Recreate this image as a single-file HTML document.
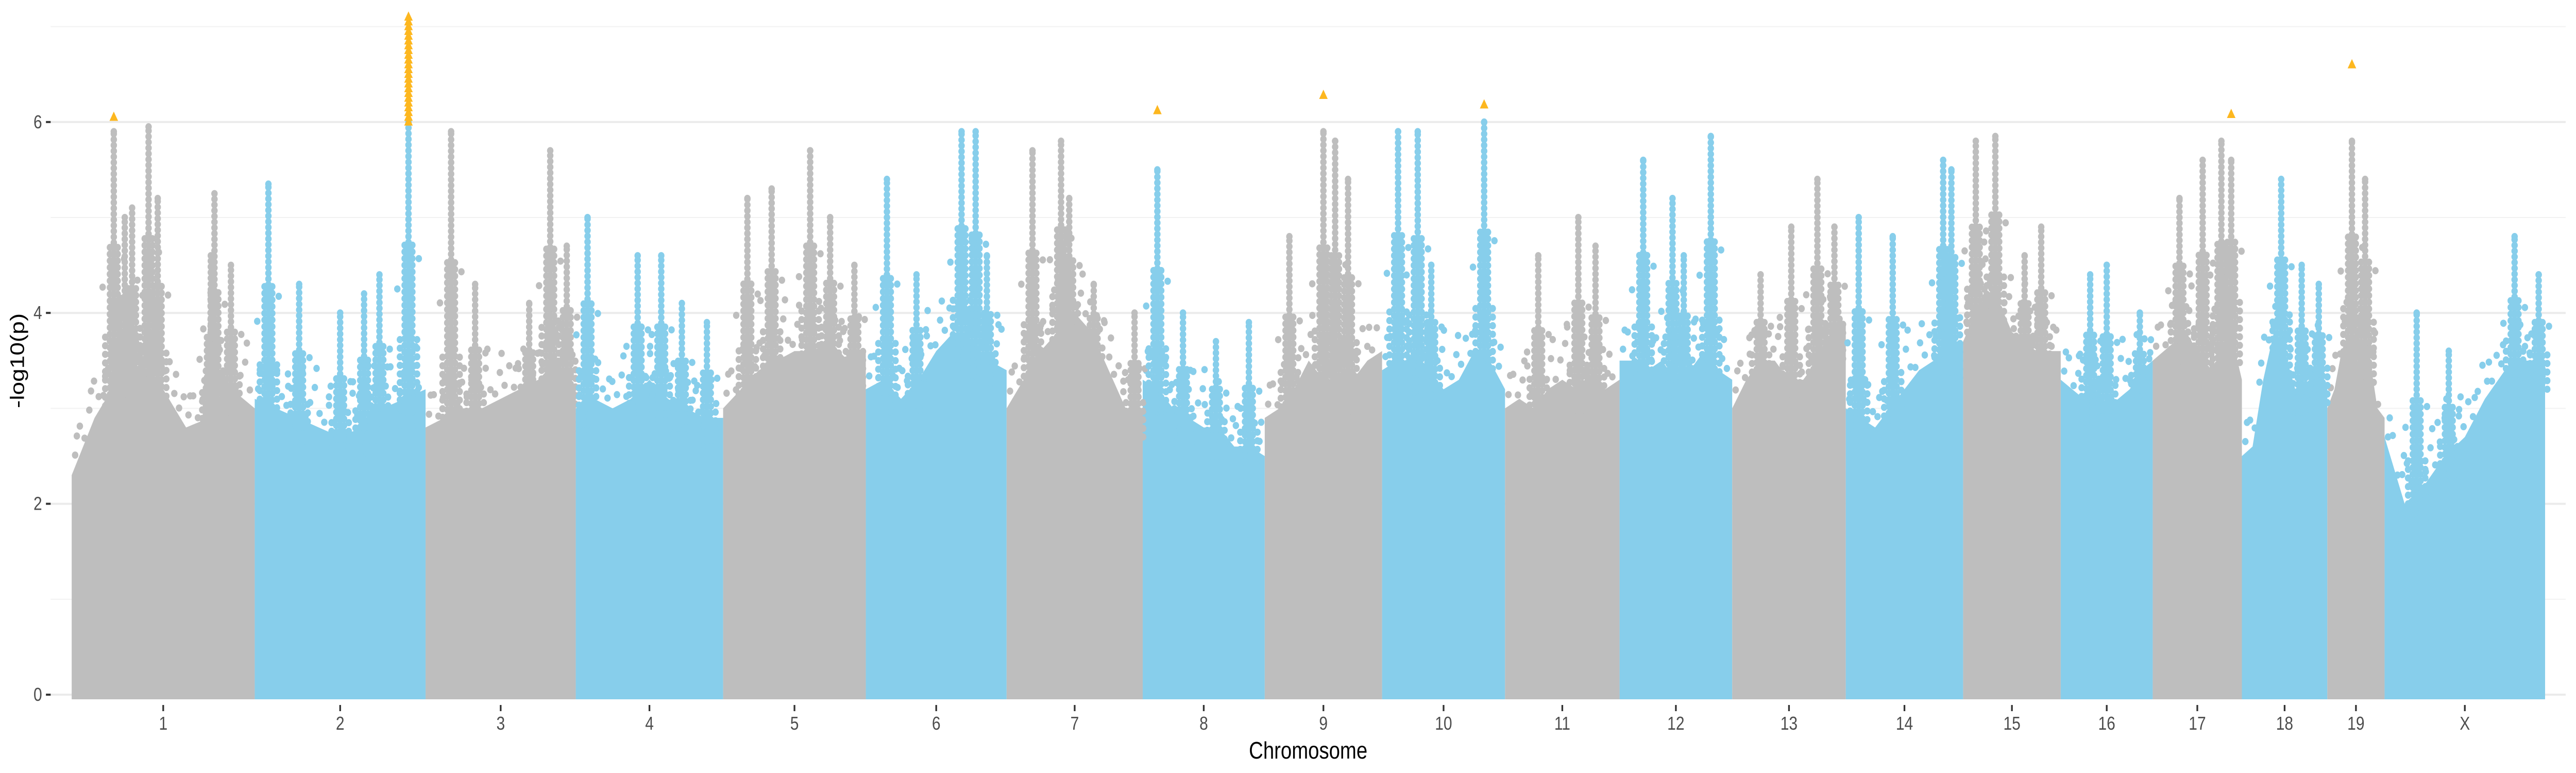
<!DOCTYPE html>
<html><head><meta charset="utf-8">
<style>
html,body{margin:0;padding:0;background:#fff;overflow:hidden;width:100vw;height:100vh;}
svg{display:block;font-family:"Liberation Sans",Arial,sans-serif;width:100vw;height:100vh;}
</style></head>
<body>
<svg id="chart" viewBox="0 0 6000 1500" preserveAspectRatio="none" xmlns="http://www.w3.org/2000/svg">
<g id="grid"></g>
<g id="bulk"></g>
<g id="peaks"></g>
<g id="hits"></g>
<g id="yaxis"></g>
<g id="xaxis"></g>
<text x="0" y="0" transform="translate(56,700) rotate(-90)" text-anchor="middle" font-size="46" fill="#000">-log10(p)</text>
<text x="3047" y="1472" text-anchor="middle" font-size="46" fill="#000">Chromosome</text>
</svg>
<script>
const chromNames = ["1","2","3","4","5","6","7","8","9","10","11","12","13","14","15","16","17","18","19","X"];
const chromLengths = [195,182,160,157,152,150,145,130,125,131,122,120,121,125,104,98,95,91,61,171];
const yTicks = [0,2,4,6];
const yMinor = [1,3,5,7];
// dense envelope (-log10 p) at 9 evenly spaced positions per chromosome
const envelope = [
[2.3,2.9,3.3,3.4,3.2,2.8,2.9,3.2,3.0],
[3.1,3.0,2.9,2.8,2.7,2.8,3.0,3.1,3.2],
[2.8,2.9,3.0,3.0,3.1,3.2,3.3,3.5,3.2],
[3.0,3.1,3.0,3.1,3.3,3.1,3.0,2.9,2.9],
[3.0,3.2,3.4,3.5,3.6,3.6,3.7,3.5,3.6],
[3.2,3.3,3.1,3.3,3.6,3.8,3.6,3.5,3.4],
[3.0,3.3,3.6,3.8,4.0,3.8,3.4,3.0,3.0],
[3.3,3.2,3.0,2.9,2.8,2.8,2.6,2.6,2.5],
[2.9,3.0,3.2,3.5,3.3,3.2,3.3,3.5,3.6],
[3.4,3.5,3.5,3.4,3.2,3.3,3.6,3.5,3.2],
[3.0,3.1,3.0,3.2,3.3,3.2,3.3,3.2,3.3],
[3.5,3.5,3.4,3.5,3.3,3.4,3.6,3.4,3.3],
[3.0,3.3,3.5,3.5,3.3,3.3,3.5,3.8,3.9],
[3.0,2.9,2.8,3.0,3.2,3.4,3.5,3.6,3.7],
[3.7,4.0,4.2,4.1,3.8,3.7,3.6,3.6,3.6],
[3.3,3.2,3.1,3.2,3.0,3.1,3.2,3.4,3.5],
[3.5,3.6,3.7,3.8,3.6,3.4,3.5,3.8,3.3],
[2.5,2.6,3.3,3.8,3.6,3.2,3.2,3.4,3.2],
[3.0,3.2,3.6,3.8,3.4,3.6,3.5,3.0,2.9],
[2.7,2.0,2.2,2.5,2.7,3.1,3.4,3.5,3.5]
];
// peaks: chromosome index, fractional position, top -log10(p)
const peakChrom = [0,0,0,0,0,0,0,0, 1,1,1,1,1,1, 2,2,2,2,2, 3,3,3,3,3, 4,4,4,4,4, 5,5,5,5,5, 6,6,6,6,6, 7,7,7,7, 8,8,8,8, 9,9,9,9, 10,10,10, 11,11,11,11, 12,12,12,12, 13,13,13,13, 14,14,14,14, 15,15,15, 16,16,16,16, 17,17,17, 18,18, 19,19,19,19];
const peakFrac = [0.23,0.29,0.33,0.42,0.47,0.78,0.76,0.87, 0.08,0.26,0.50,0.64,0.73,0.90, 0.17,0.33,0.83,0.69,0.94, 0.08,0.42,0.58,0.72,0.89, 0.17,0.34,0.61,0.75,0.92, 0.15,0.36,0.68,0.78,0.86, 0.19,0.40,0.46,0.64,0.94, 0.12,0.33,0.60,0.87, 0.21,0.50,0.60,0.71, 0.13,0.29,0.40,0.83, 0.29,0.64,0.79, 0.21,0.47,0.81,0.57, 0.25,0.52,0.75,0.90, 0.11,0.40,0.83,0.90, 0.13,0.33,0.80,0.63, 0.32,0.50,0.86, 0.30,0.56,0.77,0.88, 0.46,0.70,0.90, 0.43,0.66, 0.20,0.40,0.81,0.96];
const peakTop = [5.9,5.0,5.1,5.95,5.2,5.25,4.6,4.5, 5.35,4.3,4.0,4.2,4.4,6.0, 5.9,4.3,5.7,4.1,4.7, 5.0,4.6,4.6,4.1,3.9, 5.2,5.3,5.7,5.0,4.5, 5.4,4.4,5.9,5.9,4.6, 5.7,5.8,5.2,4.3,4.0, 5.5,4.0,3.7,3.9, 4.8,5.9,5.8,5.4, 5.9,5.9,4.5,6.0, 4.6,5.0,4.7, 5.6,5.2,5.85,4.6, 4.4,4.9,5.4,4.9, 5.0,4.8,5.6,5.5, 5.8,5.85,4.9,4.6, 4.4,4.5,4.0, 5.2,5.6,5.8,5.6, 5.4,4.5,4.3, 5.8,5.4, 4.0,3.6,4.8,4.4];
// significant hits (triangles)
const hitChrom = [0,1,1,1,1,1,1,1,1,1,1,1,1,1,1,1,1,1,1,1,1,1,1,1,7,8,9,16,18];
const hitFrac = [0.23,0.90,0.90,0.90,0.90,0.90,0.90,0.90,0.90,0.90,0.90,0.90,0.90,0.90,0.90,0.90,0.90,0.90,0.90,0.90,0.90,0.90,0.90,0.90,0.12,0.50,0.83,0.88,0.43];
const hitVal = [6.05,6.0,6.05,6.1,6.15,6.2,6.25,6.3,6.35,6.4,6.45,6.5,6.55,6.6,6.65,6.7,6.75,6.8,6.85,6.9,6.95,7.0,7.05,7.1,6.12,6.28,6.18,6.08,6.6];

const NS="http://www.w3.org/2000/svg";
const X0=167, X1=5928, Y0=1348, PU=185.2;
const total = chromLengths.reduce((a,b)=>a+b,0);
const offsets=[]; {let c=0; for(const l of chromLengths){offsets.push(c); c+=l;}}
function xScale(ci,frac){return X0+(offsets[ci]+frac*chromLengths[ci])/total*(X1-X0);}
function yScale(v){return Y0-PU*v;}
function colorOf(ci){return ci%2===0?"#bebebe":"#87ceeb";}
function mk(tag,attrs,parent){const e=document.createElementNS(NS,tag);for(const k in attrs)e.setAttribute(k,attrs[k]);parent.appendChild(e);return e;}

const grid=document.getElementById("grid");
yMinor.forEach(v=>{const l=mk("line",{x1:118,x2:5976,y1:yScale(v),y2:yScale(v),stroke:"#f2f2f2","stroke-width":2},grid);

});
yTicks.forEach(v=>{const l=mk("line",{x1:118,x2:5976,y1:yScale(v),y2:yScale(v),stroke:"#ebebeb","stroke-width":4},grid);

});

function envAt(ci,frac){const env=envelope[ci];const t=frac*(env.length-1);const i=Math.min(Math.floor(t),env.length-2);const f=t-i;return env[i]*(1-f)+env[i+1]*f;}

const bulk=document.getElementById("bulk");
envelope.forEach((env,ci)=>{
  const n=env.length; let pts=[];
  pts.push([xScale(ci,0),Y0+9]);
  env.forEach((v,i)=>pts.push([xScale(ci,i/(n-1)),yScale(v)]));
  pts.push([xScale(ci,1),Y0+9]);
  const p=mk("polygon",{points:pts.map(a=>a.join(",")).join(" "),fill:colorOf(ci)},bulk);
  
  
  // ragged fringe of points above the dense region
  const g=mk("g",{fill:colorOf(ci)},bulk);
  
  
  const xa=xScale(ci,0), xb=xScale(ci,1);
  let k=0;
  for(let x=xa+8;x<xb-6;x+=11,k++){
    const fr=(x-xa)/(xb-xa);
    const e=envAt(ci,fr);
    const h=[0.12,0.3,0.05,0.22,0.4,0.15,0.08,0.28][k%8];
    mk("ellipse",{cx:x,cy:yScale(e+h),rx:7.5,ry:7},g);
    if(k%3===0) mk("ellipse",{cx:x+4,cy:yScale(e+h+0.2),rx:7.5,ry:7},g);
  }
});

const peaks=document.getElementById("peaks");
peakChrom.forEach((ci,k)=>{
  const fr=peakFrac[k], top=peakTop[k], base=envAt(ci,fr)-0.3;
  const x=xScale(ci,fr);
  const g=mk("g",{fill:colorOf(ci)},peaks);
  
  
  for(let v=base; v<top; v+=0.06){mk("ellipse",{cx:x,cy:yScale(v),rx:7.5,ry:7},g);}
  mk("ellipse",{cx:x,cy:yScale(top),rx:7.5,ry:7},g);
  const span=top-base;
  for(let v=base; v<base+span*0.6; v+=0.07){mk("ellipse",{cx:x-9,cy:yScale(v),rx:7.5,ry:7},g);mk("ellipse",{cx:x+9,cy:yScale(v),rx:7.5,ry:7},g);}
  for(let v=base; v<base+span*0.3; v+=0.09){mk("ellipse",{cx:x-20,cy:yScale(v),rx:7.5,ry:7},g);mk("ellipse",{cx:x+20,cy:yScale(v),rx:7.5,ry:7},g);}
  mk("ellipse",{cx:x-26,cy:yScale(base+span*0.45),rx:7.5,ry:7},g);
  mk("ellipse",{cx:x+24,cy:yScale(base+span*0.55),rx:7.5,ry:7},g);
});

const hits=document.getElementById("hits");
hitChrom.forEach((ci,k)=>{
  const x=xScale(ci,hitFrac[k]), y=yScale(hitVal[k]);
  const t=mk("polygon",{points:`${x},${y-11} ${x-10},${y+7} ${x+10},${y+7}`,fill:"#fdb71f"},hits);
  
  
});

const ya=document.getElementById("yaxis");
yTicks.forEach(v=>{
  const tk=mk("line",{x1:107,x2:118,y1:yScale(v),y2:yScale(v),stroke:"#333","stroke-width":4},ya);
  
  
  const t=mk("text",{x:98,y:yScale(v)+12,"text-anchor":"end","font-size":36,fill:"#4d4d4d"},ya);
  t.textContent=v;
  
  
});
const xa=document.getElementById("xaxis");
chromNames.forEach((nm,ci)=>{
  const x=xScale(ci,0.5);
  const tk=mk("line",{x1:x,x2:x,y1:1368,y2:1380,stroke:"#333","stroke-width":4},xa);
  
  
  const t=mk("text",{x:x,y:1416,"text-anchor":"middle","font-size":36,fill:"#4d4d4d"},xa);
  t.textContent=nm;
  
  
});
</script>
</body></html>
